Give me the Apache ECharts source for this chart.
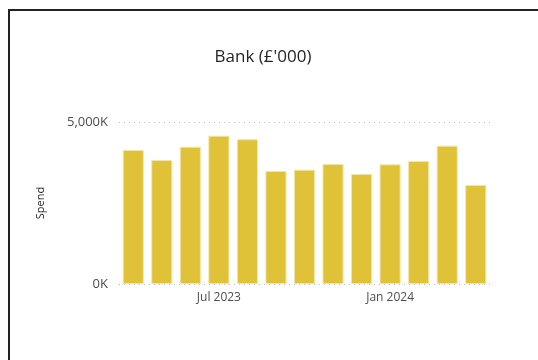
<!DOCTYPE html>
<html>
<head>
<meta charset="utf-8">
<script src="https://cdn.jsdelivr.net/npm/echarts@6/dist/echarts.min.js"></script>
<style>
html,body{margin:0;padding:0;background:#fff;}
#wrap{position:relative;width:538px;height:360px;overflow:hidden;}
#frame{position:absolute;left:8px;top:9px;width:600px;height:400px;border-left:2px solid #222;border-top:2px solid #222;box-sizing:border-box;}
#chart{position:absolute;left:0;top:0;width:538px;height:360px;}
</style>
</head>
<body>
<div id="wrap">
<div id="frame"></div>
<div id="chart"></div>
</div>
<script>
const categories = ['Apr 2023','May 2023','Jun 2023','Jul 2023','Aug 2023','Sep 2023','Oct 2023','Nov 2023','Dec 2023','Jan 2024','Feb 2024','Mar 2024','Apr 2024'];
const spend = [4136, 3827, 4238, 4578, 4466, 3488, 3528, 3704, 3395, 3694, 3796, 4270, 3056];
const shownLabels = ['Jul 2023', 'Jan 2024'];
const yTicks = [0, 5000];

const chart = echarts.init(document.getElementById('chart'), null, {renderer: 'canvas'});
const font = '"Open Sans", "Noto Sans", sans-serif';
chart.setOption({
  animation: false,
  graphic: [{
    type: 'text',
    x: 263,
    y: 57,
    style: {text: "Bank (£'000)", font: '17px ' + font, fill: '#252423', align: 'center', verticalAlign: 'middle'}
  }],
  grid: {left: 119, right: 48, top: 122, bottom: 76},
  xAxis: {
    type: 'category',
    data: categories,
    axisLine: {show: false},
    axisTick: {show: false},
    axisLabel: {
      interval: 0,
      formatter: v => shownLabels.includes(v) ? v : '',
      fontFamily: font, fontSize: 12, color: '#4F4D4B', margin: 8
    }
  },
  yAxis: {
    type: 'value',
    min: yTicks[0],
    max: yTicks[yTicks.length - 1],
    interval: 5000,
    name: 'Spend',
    nameLocation: 'middle',
    nameGap: 73,
    nameTextStyle: {fontFamily: font, fontSize: 11, color: '#252423'},
    axisLabel: {
      formatter: v => v.toLocaleString('en-US') + 'K',
      fontFamily: font, fontSize: 13, color: '#4F4D4B', margin: 11
    },
    splitLine: {lineStyle: {type: [1, 4], color: '#BDBDBD', width: 1}}
  },
  series: [{
    type: 'bar',
    data: spend,
    barCategoryGap: '26%',
    itemStyle: {color: '#DFC237', borderColor: '#F2E6A6', borderWidth: 1}
  }]
});
</script>
</body>
</html>
